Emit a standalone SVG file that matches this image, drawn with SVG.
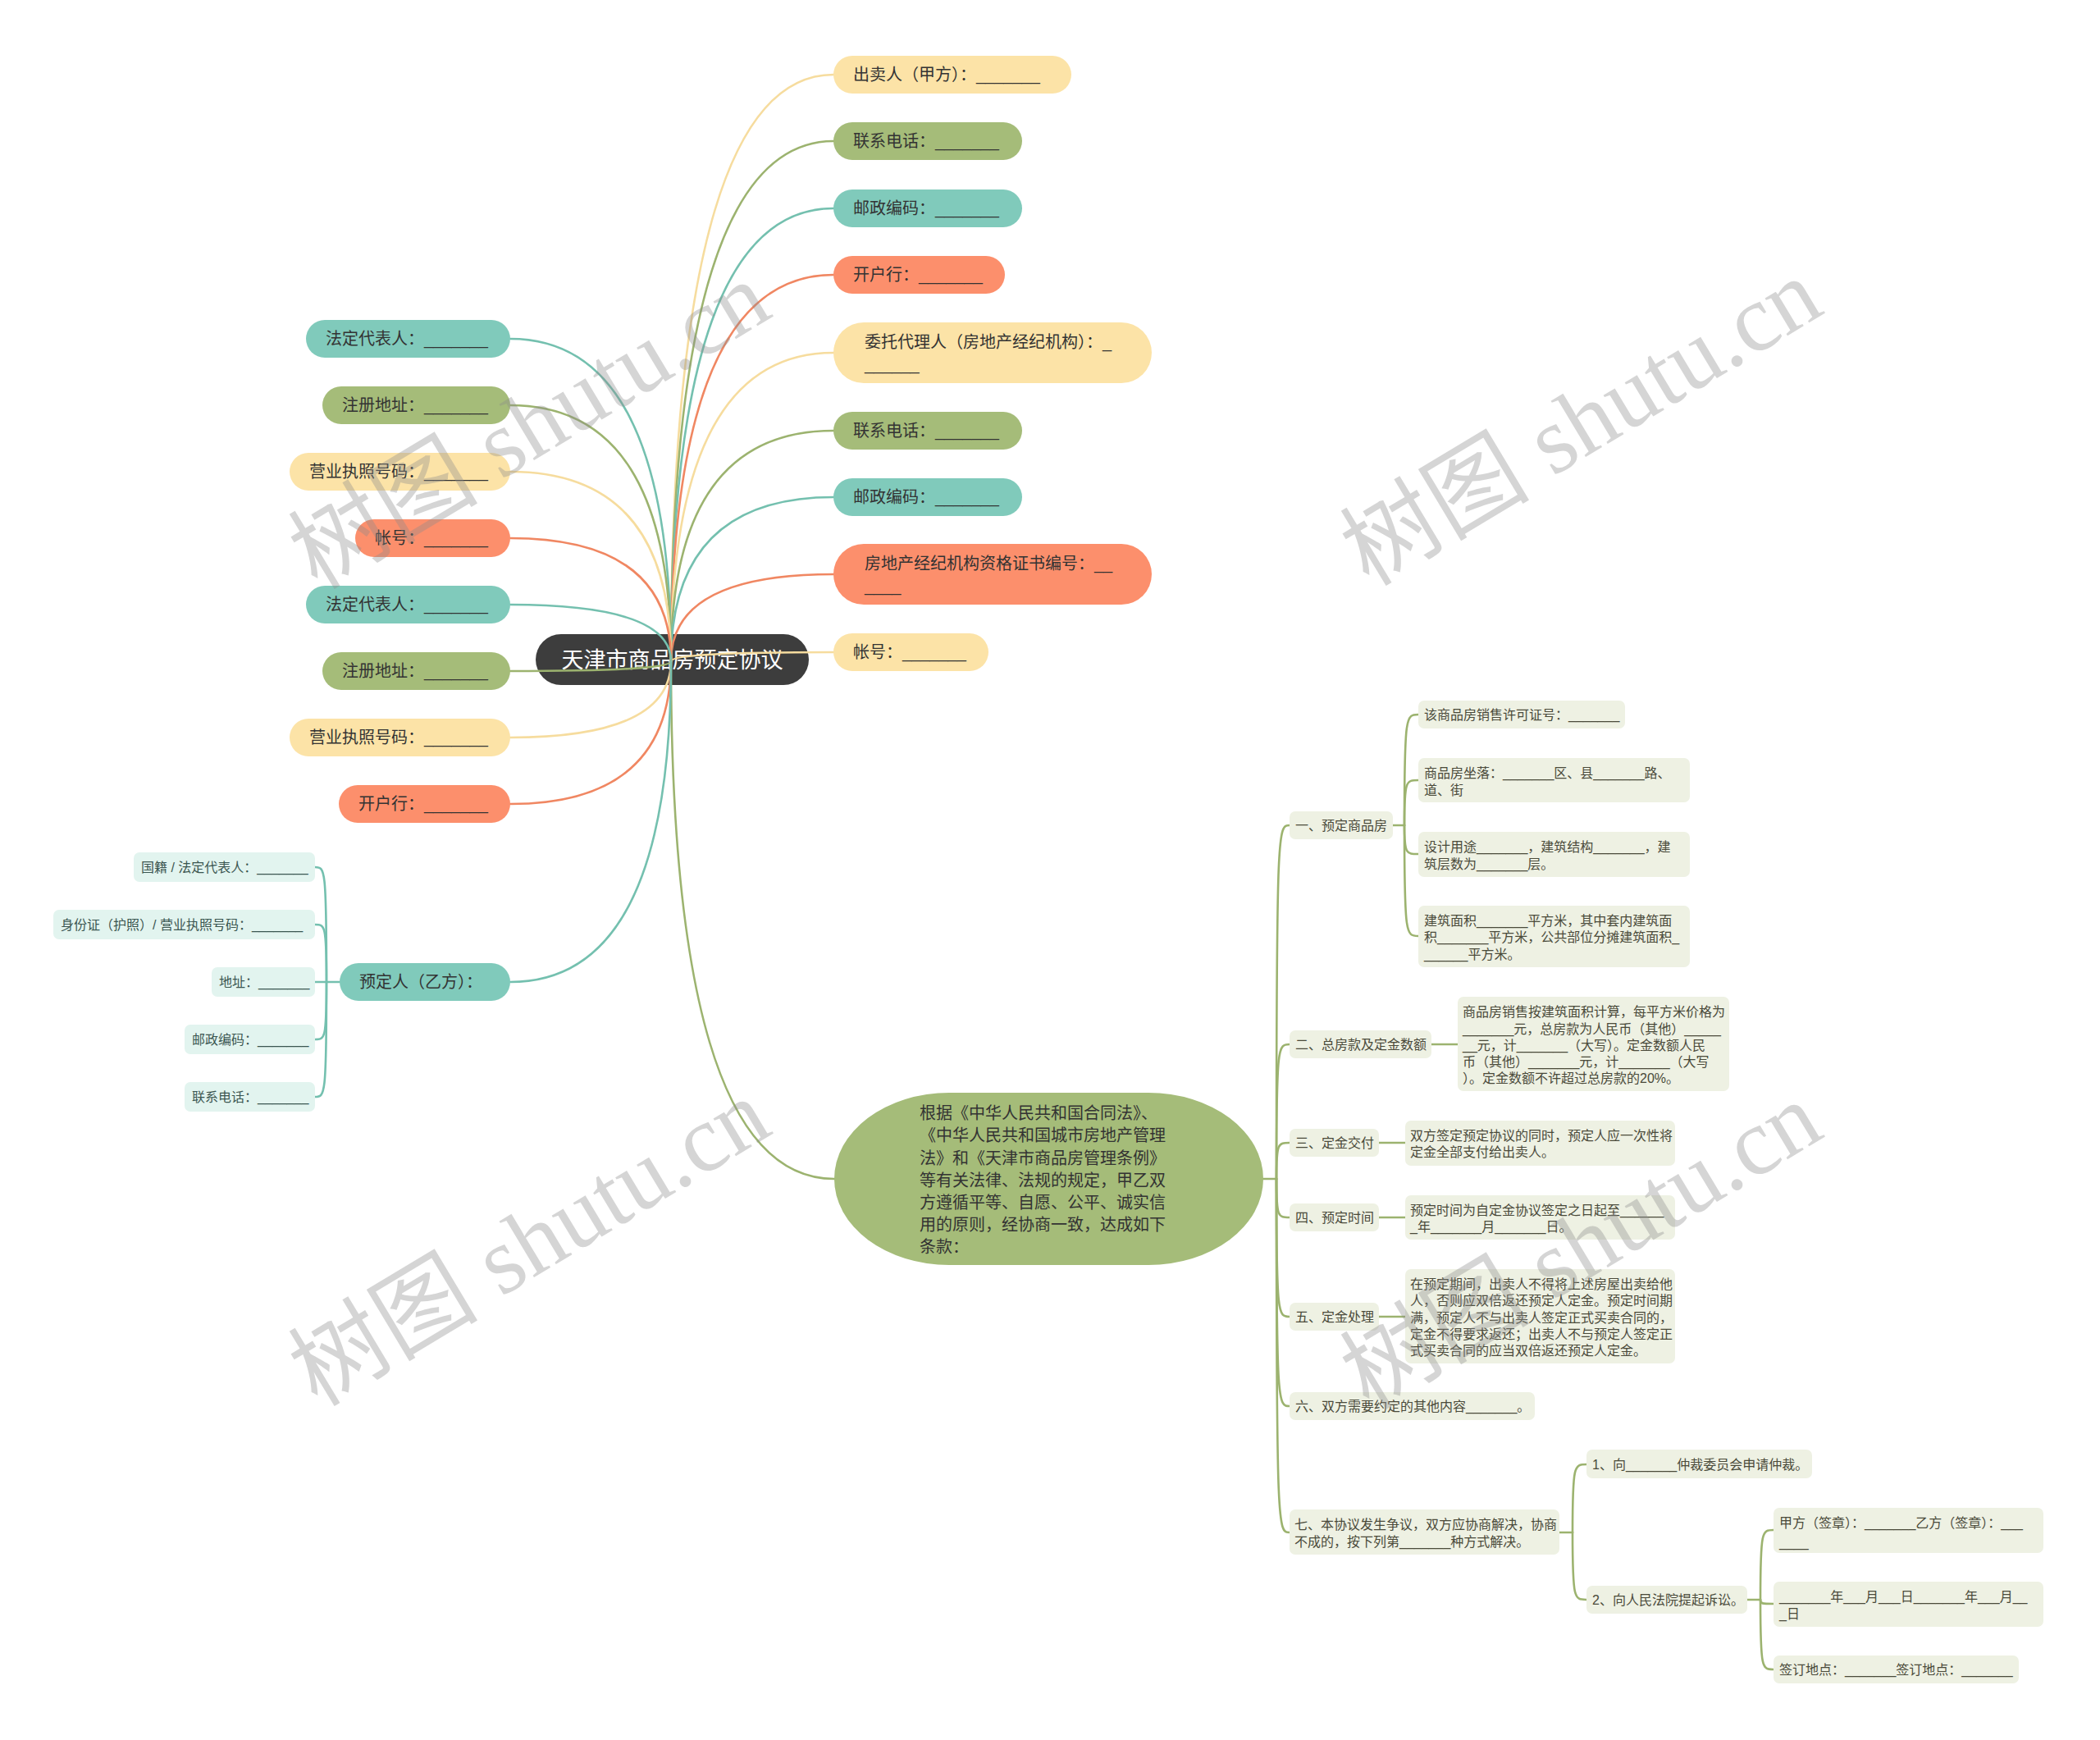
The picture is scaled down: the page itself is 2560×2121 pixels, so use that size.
<svg xmlns="http://www.w3.org/2000/svg" width="2560" height="2121" viewBox="0 0 2560 2121">
<style>
text{font-family:"Liberation Sans","Noto Sans CJK SC",sans-serif}
.l1 text{font-size:20px;fill:#333}
.y rect{fill:#fce3a7}
.g rect{fill:#a5bc79}
.t rect{fill:#80cabb}
.o rect{fill:#fc8f6c}
.n2 rect{fill:#eef1e3}
.n2 text{font-size:16px;fill:#4a4a3a}
.n2t rect{fill:#e2f4ef}
.n2t text{font-size:16px;fill:#3b5651}
.c path{fill:none;stroke-width:2.6;stroke-linecap:round}
.cy{stroke:#f6dc9e}
.cg{stroke:#9cb36f}
.ct{stroke:#74c0af}
.co{stroke:#f08762}
.wm{font-family:"Liberation Serif","Noto Sans CJK SC",serif;font-size:116px;fill:#8c8c8c;opacity:0.36}
</style>
<rect width="2560" height="2121" fill="#ffffff"/>
<g id="root">
<rect x="653" y="773" width="333" height="62" rx="31" fill="#3d3d3d"/>
<text x="819.5" y="814" font-size="27" fill="#ffffff" text-anchor="middle">天津市商品房预定协议</text>
</g>
<g id="connectors" class="c">
<path class="cy" d="M818 806 Q818 91 1016 91"/>
<path class="cg" d="M818 806 Q818 172 1016 172"/>
<path class="ct" d="M818 806 Q818 254 1016 254"/>
<path class="co" d="M818 806 Q818 335 1016 335"/>
<path class="cy" d="M818 806 Q818 430 1016 430"/>
<path class="cg" d="M818 806 Q818 525 1016 525"/>
<path class="ct" d="M818 806 Q818 606 1016 606"/>
<path class="co" d="M818 806 Q818 700 1016 700"/>
<path class="cy" d="M818 806 Q818 795 1016 795"/>
<path class="cg" d="M818 806 Q818 1437 1017 1437"/>
<path class="ct" d="M818 806 Q818 413 622 413"/>
<path class="cg" d="M818 806 Q818 494 622 494"/>
<path class="cy" d="M818 806 Q818 575 622 575"/>
<path class="co" d="M818 806 Q818 656 622 656"/>
<path class="ct" d="M818 806 Q818 737 622 737"/>
<path class="cg" d="M818 806 Q818 818 622 818"/>
<path class="cy" d="M818 806 Q818 899 622 899"/>
<path class="co" d="M818 806 Q818 980 622 980"/>
<path class="ct" d="M818 806 Q818 1197 622 1197"/>
<path class="ct" d="M414 1197 H398"/>
<path class="ct" d="M398 1197 C398 1057 396 1057 384 1057"/>
<path class="ct" d="M398 1197 C398 1127 396 1127 384 1127"/>
<path class="ct" d="M398 1197 H384"/>
<path class="ct" d="M398 1197 C398 1267 396 1267 384 1267"/>
<path class="ct" d="M398 1197 C398 1337 396 1337 384 1337"/>
<path class="cg" d="M1540 1437 H1556"/>
<path class="cg" d="M1556 1437 C1556 1006 1558 1006 1572 1006"/>
<path class="cg" d="M1556 1437 C1556 1273 1558 1273 1572 1273"/>
<path class="cg" d="M1556 1437 C1556 1393 1558 1393 1572 1393"/>
<path class="cg" d="M1556 1437 C1556 1484 1558 1484 1572 1484"/>
<path class="cg" d="M1556 1437 C1556 1605 1558 1605 1572 1605"/>
<path class="cg" d="M1556 1437 C1556 1714 1558 1714 1572 1714"/>
<path class="cg" d="M1556 1437 C1556 1868 1558 1868 1572 1868"/>
<path class="cg" d="M1698 1006 H1712"/>
<path class="cg" d="M1712 1006 C1712 871 1714 871 1729 871"/>
<path class="cg" d="M1712 1006 C1712 951 1714 951 1729 951"/>
<path class="cg" d="M1712 1006 C1712 1041 1714 1041 1729 1041"/>
<path class="cg" d="M1712 1006 C1712 1141 1714 1141 1729 1141"/>
<path class="cg" d="M1745 1273 H1777"/>
<path class="cg" d="M1681 1393 H1713"/>
<path class="cg" d="M1681 1484 H1713"/>
<path class="cg" d="M1681 1605 H1713"/>
<path class="cg" d="M1901 1868 H1917"/>
<path class="cg" d="M1917 1868 C1917 1785 1919 1785 1934 1785"/>
<path class="cg" d="M1917 1868 C1917 1950 1919 1950 1934 1950"/>
<path class="cg" d="M2130 1950 H2146"/>
<path class="cg" d="M2146 1950 C2146 1865 2148 1865 2162 1865"/>
<path class="cg" d="M2146 1950 C2146 1955 2148 1955 2162 1955"/>
<path class="cg" d="M2146 1950 C2146 2035 2148 2035 2162 2035"/>
</g>
<g id="r1" class="l1 y"><rect x="1016" y="68" width="290" height="46" rx="23"/><text x="1040" y="98">出卖人（甲方）：_______</text></g>
<g id="r2" class="l1 g"><rect x="1016" y="149" width="230" height="46" rx="23"/><text x="1040" y="179">联系电话：_______</text></g>
<g id="r3" class="l1 t"><rect x="1016" y="231" width="230" height="46" rx="23"/><text x="1040" y="261">邮政编码：_______</text></g>
<g id="r4" class="l1 o"><rect x="1016" y="312" width="209" height="46" rx="23"/><text x="1040" y="342">开户行：_______</text></g>
<g id="r5" class="l1 y"><rect x="1016" y="393" width="388" height="74" rx="37"/><text x="1054" y="424">委托代理人（房地产经纪机构）：_</text><text x="1054" y="451">______</text></g>
<g id="r6" class="l1 g"><rect x="1016" y="502" width="230" height="46" rx="23"/><text x="1040" y="532">联系电话：_______</text></g>
<g id="r7" class="l1 t"><rect x="1016" y="583" width="230" height="46" rx="23"/><text x="1040" y="613">邮政编码：_______</text></g>
<g id="r8" class="l1 o"><rect x="1016" y="663" width="388" height="74" rx="37"/><text x="1054" y="694">房地产经纪机构资格证书编号：__</text><text x="1054" y="721">____</text></g>
<g id="r9" class="l1 y"><rect x="1016" y="772" width="189" height="46" rx="23"/><text x="1040" y="802">帐号：_______</text></g>
<g id="l1" class="l1 t"><rect x="373" y="390" width="249" height="46" rx="23"/><text x="397" y="420">法定代表人：_______</text></g>
<g id="l2" class="l1 g"><rect x="393" y="471" width="229" height="46" rx="23"/><text x="417" y="501">注册地址：_______</text></g>
<g id="l3" class="l1 y"><rect x="353" y="552" width="269" height="46" rx="23"/><text x="377" y="582">营业执照号码：_______</text></g>
<g id="l4" class="l1 o"><rect x="433" y="633" width="189" height="46" rx="23"/><text x="457" y="663">帐号：_______</text></g>
<g id="l5" class="l1 t"><rect x="373" y="714" width="249" height="46" rx="23"/><text x="397" y="744">法定代表人：_______</text></g>
<g id="l6" class="l1 g"><rect x="393" y="795" width="229" height="46" rx="23"/><text x="417" y="825">注册地址：_______</text></g>
<g id="l7" class="l1 y"><rect x="353" y="876" width="269" height="46" rx="23"/><text x="377" y="906">营业执照号码：_______</text></g>
<g id="l8" class="l1 o"><rect x="413" y="957" width="209" height="46" rx="23"/><text x="437" y="987">开户行：_______</text></g>
<g id="l9" class="l1 t"><rect x="414" y="1174" width="208" height="46" rx="23"/><text x="438" y="1204">预定人（乙方）：</text></g>
<g id="l9a" class="n2t"><rect x="163" y="1039" width="221" height="36" rx="7"/><text x="172" y="1063">国籍 / 法定代表人：_______</text></g>
<g id="l9b" class="n2t"><rect x="65" y="1109" width="319" height="36" rx="7"/><text x="74" y="1133">身份证（护照）/ 营业执照号码：_______</text></g>
<g id="l9c" class="n2t"><rect x="258" y="1179" width="126" height="36" rx="7"/><text x="267" y="1203">地址：_______</text></g>
<g id="l9d" class="n2t"><rect x="225" y="1249" width="159" height="36" rx="7"/><text x="234" y="1273">邮政编码：_______</text></g>
<g id="l9e" class="n2t"><rect x="225" y="1319" width="159" height="36" rx="7"/><text x="234" y="1343">联系电话：_______</text></g>
<g id="r10" class="l1 g">
<rect x="1017" y="1332" width="523" height="210" rx="140" ry="105"/>
<text x="1121" y="1364">根据《中华人民共和国合同法》、</text>
<text x="1121" y="1391">《中华人民共和国城市房地产管理</text>
<text x="1121" y="1419">法》和《天津市商品房管理条例》</text>
<text x="1121" y="1446">等有关法律、法规的规定，甲乙双</text>
<text x="1121" y="1473">方遵循平等、自愿、公平、诚实信</text>
<text x="1121" y="1500">用的原则，经协商一致，达成如下</text>
<text x="1121" y="1527">条款：</text>
</g>
<g id="s1" class="n2"><rect x="1572" y="989" width="126" height="34" rx="7"/><text x="1579" y="1012">一、预定商品房</text></g>
<g id="s1a" class="n2"><rect x="1729" y="854" width="252" height="34" rx="7"/><text x="1736" y="877">该商品房销售许可证号：_______</text></g>
<g id="s1b" class="n2"><rect x="1729" y="924" width="331" height="54" rx="7"/><text x="1736" y="948">商品房坐落：_______区、县_______路、</text><text x="1736" y="969">道、街</text></g>
<g id="s1c" class="n2"><rect x="1729" y="1014" width="331" height="55" rx="7"/><text x="1736" y="1038">设计用途_______，建筑结构_______，建</text><text x="1736" y="1059">筑层数为_______层。</text></g>
<g id="s1d" class="n2"><rect x="1729" y="1104" width="331" height="75" rx="7"/><text x="1736" y="1128">建筑面积_______平方米，其中套内建筑面</text><text x="1736" y="1148">积_______平方米，公共部位分摊建筑面积_</text><text x="1736" y="1169">______平方米。</text></g>
<g id="s2" class="n2"><rect x="1572" y="1256" width="173" height="34" rx="7"/><text x="1579" y="1279">二、总房款及定金数额</text></g>
<g id="s2a" class="n2"><rect x="1777" y="1215" width="331" height="115" rx="7"/>
<text x="1783" y="1239">商品房销售按建筑面积计算，每平方米价格为</text>
<text x="1783" y="1260">_______元，总房款为人民币（其他）_____</text>
<text x="1783" y="1280">__元，计_______（大写）。定金数额人民</text>
<text x="1783" y="1300">币（其他）_______元，计_______（大写</text>
<text x="1783" y="1320">）。定金数额不许超过总房款的20%。</text></g>
<g id="s3" class="n2"><rect x="1572" y="1376" width="109" height="34" rx="7"/><text x="1579" y="1399">三、定金交付</text></g>
<g id="s3a" class="n2"><rect x="1713" y="1366" width="329" height="55" rx="7"/><text x="1719" y="1390">双方签定预定协议的同时，预定人应一次性将</text><text x="1719" y="1410">定金全部支付给出卖人。</text></g>
<g id="s4" class="n2"><rect x="1572" y="1467" width="109" height="34" rx="7"/><text x="1579" y="1490">四、预定时间</text></g>
<g id="s4a" class="n2"><rect x="1713" y="1457" width="329" height="54" rx="7"/><text x="1719" y="1481">预定时间为自定金协议签定之日起至______</text><text x="1719" y="1501">_年_______月_______日。</text></g>
<g id="s5" class="n2"><rect x="1572" y="1588" width="109" height="34" rx="7"/><text x="1579" y="1611">五、定金处理</text></g>
<g id="s5a" class="n2"><rect x="1713" y="1547" width="329" height="115" rx="7"/>
<text x="1719" y="1571">在预定期间，出卖人不得将上述房屋出卖给他</text>
<text x="1719" y="1591">人，否则应双倍返还预定人定金。预定时间期</text>
<text x="1719" y="1612">满，预定人不与出卖人签定正式买卖合同的，</text>
<text x="1719" y="1632">定金不得要求返还；出卖人不与预定人签定正</text>
<text x="1719" y="1652">式买卖合同的应当双倍返还预定人定金。</text></g>
<g id="s6" class="n2"><rect x="1572" y="1697" width="299" height="34" rx="7"/><text x="1579" y="1720">六、双方需要约定的其他内容_______。</text></g>
<g id="s7" class="n2"><rect x="1572" y="1840" width="329" height="55" rx="7"/><text x="1578" y="1864">七、本协议发生争议，双方应协商解决，协商</text><text x="1578" y="1885">不成的，按下列第_______种方式解决。</text></g>
<g id="s7a" class="n2"><rect x="1934" y="1767" width="275" height="35" rx="7"/><text x="1941" y="1791">1、向_______仲裁委员会申请仲裁。</text></g>
<g id="s7b" class="n2"><rect x="1934" y="1933" width="196" height="34" rx="7"/><text x="1941" y="1956">2、向人民法院提起诉讼。</text></g>
<g id="s7b1" class="n2"><rect x="2162" y="1838" width="329" height="55" rx="7"/><text x="2169" y="1862">甲方（签章）：_______乙方（签章）：___</text><text x="2169" y="1886">____</text></g>
<g id="s7b2" class="n2"><rect x="2162" y="1928" width="329" height="55" rx="7"/><text x="2169" y="1952">_______年___月___日_______年___月__</text><text x="2169" y="1973">_日</text></g>
<g id="s7b3" class="n2"><rect x="2162" y="2018" width="299" height="34" rx="7"/><text x="2169" y="2041">签订地点：_______签订地点：_______</text></g>
<g id="watermarks">
<text class="wm" text-anchor="middle" transform="translate(645 518) rotate(-31)" x="0" y="40">树图 shutu.cn</text>
<text class="wm" text-anchor="middle" transform="translate(1927 514) rotate(-31)" x="0" y="40">树图 shutu.cn</text>
<text class="wm" text-anchor="middle" transform="translate(645 1514) rotate(-31)" x="0" y="40">树图 shutu.cn</text>
<text class="wm" text-anchor="middle" transform="translate(1927 1518) rotate(-31)" x="0" y="40">树图 shutu.cn</text>
</g>
</svg>
